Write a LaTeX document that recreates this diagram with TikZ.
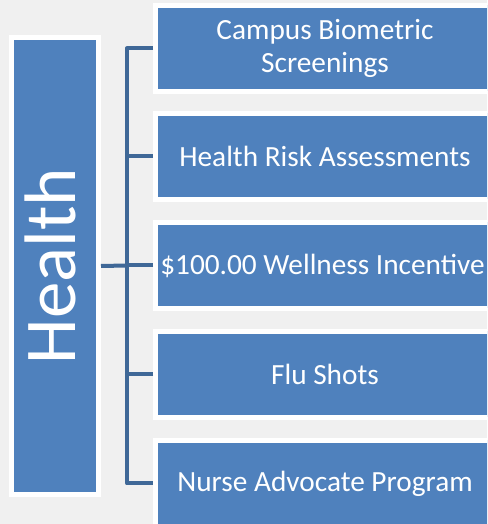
\documentclass[tikz,border=0pt]{standalone}
\usepackage{fontspec}
\setmainfont{Carlito}
\definecolor{boxblue}{HTML}{4F81BD}
\definecolor{linkblue}{HTML}{3F6897}
\definecolor{paper}{HTML}{F0F0F0}
\tikzset{
  itembox/.style={rectangle,fill=boxblue,draw=white,line width=5pt,
    minimum width=339pt,minimum height=86pt,text=white,align=center,
    font=\fontsize{29.3}{33}\selectfont},
  mainbox/.style={rectangle,fill=boxblue,draw=white,line width=5pt,
    minimum width=457pt,minimum height=87pt,text=white,rotate=90,
    text depth=10pt,font=\fontsize{73}{80}\selectfont},
  link/.style={draw=linkblue,line width=4pt,line join=round}
}
\begin{document}
\begin{tikzpicture}[x=1pt,y=1pt]
          \fill[paper] (0,0) rectangle (487,524);
          \useasboundingbox (0,0) rectangle (487,524);
          \begin{scope}
            \clip (0,0) rectangle (487,524);
            \node[mainbox] (health) at (55,258) {Health};
            \node[itembox] (campus) at (325,475.5) {Campus Biometric\\Screenings};
            \node[itembox] (risk) at (325,367.5) {Health Risk Assessments};
            \node[itembox] (incentive) at (325,258.5) {\$100.00 Wellness Incentive\hspace*{5pt}};
            \node[itembox] (flu) at (325,149.5) {Flu Shots};
            \node[itembox] (nurse) at (325,40.5) {Nurse Advocate Program};
          \end{scope}
          \coordinate (trunk) at (127,258.5);
          \begin{scope}[every path/.style={link}]
            \path (health.south) -- (trunk);
            \path (campus.west) -| (trunk) |- (nurse.west);
            \path (risk.west) -- (risk.west -| trunk);
            \path (incentive.west) -- (incentive.west -| trunk);
            \path (flu.west) -- (flu.west -| trunk);
          \end{scope}
        \end{tikzpicture}
\end{document}
